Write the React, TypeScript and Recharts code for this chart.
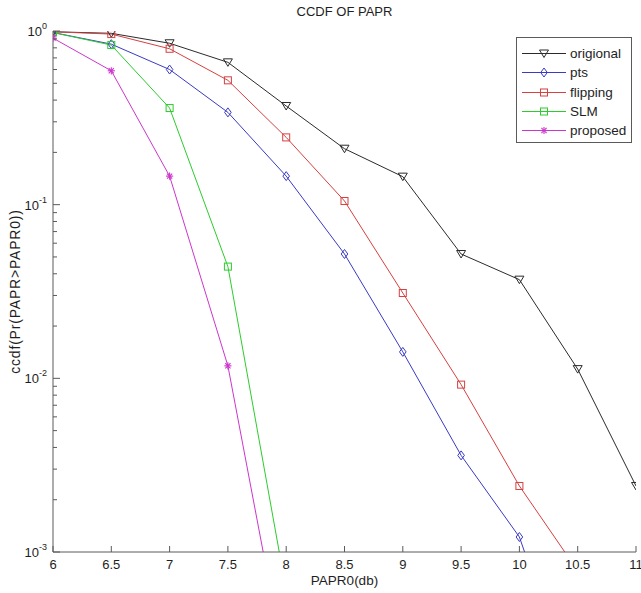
import React from 'react';
import { LineChart, Line, XAxis, YAxis } from 'recharts';

const xValues = [6, 6.5, 7, 7.5, 8, 8.5, 9, 9.5, 10, 10.5, 11];
const original = [0.99, 0.97, 0.85, 0.66, 0.37, 0.21, 0.145, 0.052, 0.037, 0.0113, 0.0024];
const pts = [0.98, 0.84, 0.6, 0.34, 0.146, 0.052, 0.0142, 0.0036, 0.00122, 0.00013, null];
const flipping = [0.99, 0.96, 0.79, 0.52, 0.244, 0.105, 0.031, 0.0092, 0.0024, 0.00078, null];
const slm = [0.98, 0.83, 0.36, 0.044, 0.0006, null, null, null, null, null, null];
const proposed = [0.91, 0.59, 0.146, 0.0118, 0.0002, null, null, null, null, null, null];

const seriesKeys = ['original', 'pts', 'flipping', 'slm', 'proposed'];
const seriesNames = ['origional', 'pts', 'flipping', 'SLM', 'proposed'];
const seriesColors = ['#2b2b2b', '#3a3ac4', '#d64040', '#2ccc2c', '#cc35cc'];
const seriesMarkers = ['triangleDown', 'diamond', 'square', 'square', 'asterisk'];

const xTicks = [6, 6.5, 7, 7.5, 8, 8.5, 9, 9.5, 10, 10.5, 11];
const yTicks = [
  0.001, 0.002, 0.003, 0.004, 0.005, 0.006, 0.007, 0.008, 0.009,
  0.01, 0.02, 0.03, 0.04, 0.05, 0.06, 0.07, 0.08, 0.09,
  0.1, 0.2, 0.3, 0.4, 0.5, 0.6, 0.7, 0.8, 0.9, 1,
];

const titleText = 'CCDF OF PAPR';
const xLabelText = 'PAPR0(db)';
const yLabelText = 'ccdf(Pr(PAPR>PAPR0))';

const FONT = '"Liberation Sans", Arial, Helvetica, sans-serif';
const AXIS_COLOR = '#5a5a5a';
const TEXT_COLOR = '#1e1e1e';

const data = xValues.map((x, i) => ({
  x,
  original: original[i],
  pts: pts[i],
  flipping: flipping[i],
  slm: slm[i],
  proposed: proposed[i],
}));

function Marker({ shape, cx, cy, color }: { shape: string; cx: number; cy: number; color: string }) {
  if (shape === 'triangleDown') {
    return (
      <polygon
        points={`${cx - 4.5},${cy - 3.5} ${cx + 4.5},${cy - 3.5} ${cx},${cy + 4}`}
        fill="none"
        stroke={color}
        strokeWidth={1}
      />
    );
  }
  if (shape === 'diamond') {
    return (
      <polygon
        points={`${cx},${cy - 4.5} ${cx + 3.3},${cy} ${cx},${cy + 4.5} ${cx - 3.3},${cy}`}
        fill="none"
        stroke={color}
        strokeWidth={1}
      />
    );
  }
  if (shape === 'square') {
    return <rect x={cx - 3.5} y={cy - 3.5} width={7} height={7} fill="none" stroke={color} strokeWidth={1} />;
  }
  const r = 3.6;
  const d = 2.6;
  return (
    <g stroke={color} strokeWidth={1.1}>
      <line x1={cx - r} y1={cy} x2={cx + r} y2={cy} />
      <line x1={cx} y1={cy - r} x2={cx} y2={cy + r} />
      <line x1={cx - d} y1={cy - d} x2={cx + d} y2={cy + d} />
      <line x1={cx - d} y1={cy + d} x2={cx + d} y2={cy - d} />
    </g>
  );
}

const isMajor = (v: number) => Math.abs(Math.log10(v) - Math.round(Math.log10(v))) < 1e-6;

const LeftTick = (props: any) => {
  const { x, y, payload } = props;
  const v = payload.value;
  const major = isMajor(v);
  const exp = Math.round(Math.log10(v));
  return (
    <g>
      <line x1={x} x2={x + (major ? 7 : 4)} y1={y} y2={y} stroke={AXIS_COLOR} strokeWidth={1} />
      {major && (
        <text x={x - 6} y={y + 5} textAnchor="end" fontSize={13} fill={TEXT_COLOR} fontFamily={FONT}>
          10
          <tspan dy={-7} fontSize={9}>
            {String(exp)}
          </tspan>
        </text>
      )}
    </g>
  );
};

const RightTick = (props: any) => {
  const { x, y, payload } = props;
  const major = isMajor(payload.value);
  return <line x1={x} x2={x - (major ? 7 : 4)} y1={y} y2={y} stroke={AXIS_COLOR} strokeWidth={1} />;
};

const BottomTick = (props: any) => {
  const { x, y, payload } = props;
  return (
    <g>
      <line x1={x} x2={x} y1={y} y2={y - 6} stroke={AXIS_COLOR} strokeWidth={1} />
      <text x={x} y={y + 17} textAnchor="middle" fontSize={13} fill={TEXT_COLOR} fontFamily={FONT}>
        {String(payload.value)}
      </text>
    </g>
  );
};

const TopTick = (props: any) => {
  const { x, y } = props;
  return <line x1={x} x2={x} y1={y} y2={y + 6} stroke={AXIS_COLOR} strokeWidth={1} />;
};

const makeDot = (shape: string, color: string, key: string) => (p: any) => {
  if (p.cx == null || p.cy == null || p.value == null) return <g key={`${key}-${p.index}`} />;
  return (
    <g key={`${key}-${p.index}`}>
      <Marker shape={shape} cx={p.cx} cy={p.cy} color={color} />
    </g>
  );
};

export default function App() {
  return (
    <div style={{ position: 'absolute', left: 0, top: 0, width: 641, height: 593, background: '#fff' }}>
      <LineChart
        width={641}
        height={593}
        data={data}
        margin={{ top: 31, right: 5, bottom: 0, left: 0 }}
      >
        <XAxis
          xAxisId="b"
          dataKey="x"
          type="number"
          domain={[6, 11]}
          ticks={xTicks}
          interval={0}
          allowDataOverflow
          height={41}
          tickSize={0}
          tickMargin={0}
          tickLine={false}
          axisLine={{ stroke: AXIS_COLOR }}
          tick={<BottomTick />}
          label={{
            content: (p: any) => {
              const vb = p.viewBox || { x: 53, y: 552, width: 583, height: 41 };
              return (
                <text
                  x={vb.x + vb.width / 2}
                  y={vb.y + 33}
                  textAnchor="middle"
                  fontSize={13.5}
                  fill={TEXT_COLOR}
                  fontFamily={FONT}
                >
                  {xLabelText}
                </text>
              );
            },
          }}
        />
        <XAxis
          xAxisId="t"
          dataKey="x"
          orientation="top"
          type="number"
          domain={[6, 11]}
          ticks={xTicks}
          interval={0}
          allowDataOverflow
          height={0}
          tickSize={0}
          tickMargin={0}
          tickLine={false}
          axisLine={{ stroke: AXIS_COLOR }}
          tick={<TopTick />}
        />
        <YAxis
          yAxisId="l"
          type="number"
          scale="log"
          domain={[0.001, 1]}
          ticks={yTicks}
          interval={0}
          allowDataOverflow
          width={53}
          tickSize={0}
          tickMargin={0}
          tickLine={false}
          axisLine={{ stroke: AXIS_COLOR }}
          tick={<LeftTick />}
          label={{
            content: (p: any) => {
              const vb = p.viewBox || { x: 0, y: 31, width: 53, height: 521 };
              const cx = vb.x + 15;
              const cy = vb.y + vb.height / 2;
              return (
                <text
                  x={cx}
                  y={cy}
                  transform={`rotate(-90, ${cx}, ${cy})`}
                  textAnchor="middle"
                  dominantBaseline="central"
                  fontSize={14}
                  letterSpacing={0.8}
                  fill={TEXT_COLOR}
                  fontFamily={FONT}
                >
                  {yLabelText}
                </text>
              );
            },
          }}
        />
        <YAxis
          yAxisId="r"
          orientation="right"
          type="number"
          scale="log"
          domain={[0.001, 1]}
          ticks={yTicks}
          interval={0}
          allowDataOverflow
          width={0}
          tickSize={0}
          tickMargin={0}
          tickLine={false}
          axisLine={{ stroke: AXIS_COLOR }}
          tick={<RightTick />}
        />
        {seriesKeys.map((k, i) => (
          <Line
            key={k}
            xAxisId="b"
            yAxisId="l"
            dataKey={k}
            name={seriesNames[i]}
            type="linear"
            stroke={seriesColors[i]}
            strokeWidth={1}
            isAnimationActive={false}
            connectNulls={false}
            dot={makeDot(seriesMarkers[i], seriesColors[i], k)}
            activeDot={false}
          />
        ))}
      </LineChart>
      <div
        style={{
          position: 'absolute',
          left: 0,
          top: 4,
          width: 641,
          paddingLeft: 53,
          boxSizing: 'border-box',
          paddingRight: 5,
          textAlign: 'center',
          fontFamily: FONT,
          fontSize: 13,
          color: TEXT_COLOR,
          lineHeight: '16px',
        }}
      >
        {titleText}
      </div>
      <div
        style={{
          position: 'absolute',
          left: 516,
          top: 37,
          width: 116,
          height: 106,
          boxSizing: 'border-box',
          border: `1px solid ${AXIS_COLOR}`,
          background: '#fff',
          paddingTop: 6,
          fontFamily: FONT,
          fontSize: 13.5,
          color: TEXT_COLOR,
        }}
      >
        {seriesNames.map((n, i) => (
          <div key={n} style={{ display: 'flex', alignItems: 'center', height: 19.3 }}>
            <svg width={53} height={19} style={{ display: 'block', flex: 'none' }}>
              <line x1={5} x2={49} y1={9.5} y2={9.5} stroke={seriesColors[i]} strokeWidth={1} />
              <Marker shape={seriesMarkers[i]} cx={27} cy={9.5} color={seriesColors[i]} />
            </svg>
            <span style={{ whiteSpace: 'nowrap' }}>{n}</span>
          </div>
        ))}
      </div>
    </div>
  );
}
